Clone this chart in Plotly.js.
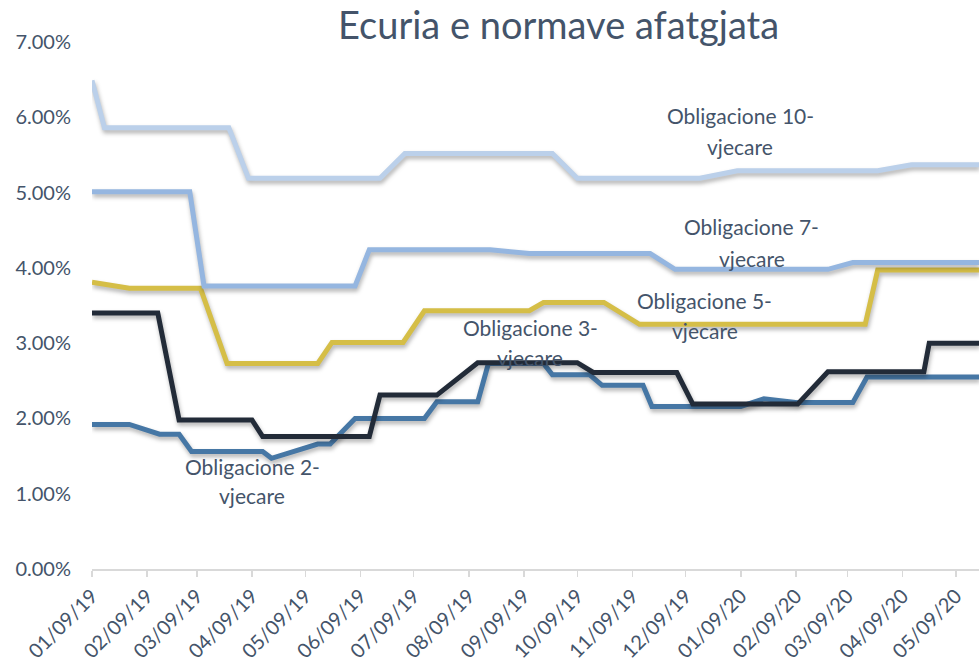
<!DOCTYPE html>
<html>
<head>
<meta charset="utf-8">
<script src="https://cdn.plot.ly/plotly-3.0.1.min.js"></script>
<style>
  html, body { margin: 0; padding: 0; background: #fff; }
  #chart { width: 979px; height: 664px; }
  .scatterlayer .js-line { filter: drop-shadow(1px 3px 2px rgba(0,0,0,0.30)); }
</style>
</head>
<body>
<div id="chart"></div>
<script>
// ---- Data ----
const seriesNames = ['Obligacione 2-vjecare', 'Obligacione 3-vjecare', 'Obligacione 5-vjecare', 'Obligacione 7-vjecare', 'Obligacione 10-vjecare'];

const dates2 = ['2019-01-09','2019-01-30','2019-02-16','2019-02-27','2019-03-06','2019-04-15','2019-04-20','2019-05-16','2019-05-23','2019-06-06','2019-07-15','2019-07-22','2019-08-14','2019-08-20','2019-09-20','2019-09-25','2019-10-16','2019-10-23','2019-11-15','2019-11-20','2020-01-09','2020-01-22','2020-02-10','2020-03-12','2020-03-20','2020-05-22'];
const rates2 = [1.92,1.92,1.79,1.79,1.56,1.56,1.47,1.66,1.66,2.00,2.00,2.22,2.22,2.73,2.73,2.58,2.58,2.44,2.44,2.16,2.16,2.26,2.21,2.21,2.55,2.55];

const dates3 = ['2019-01-09','2019-02-15','2019-02-27','2019-04-09','2019-04-15','2019-06-14','2019-06-20','2019-07-22','2019-08-14','2019-10-09','2019-10-18','2019-12-04','2019-12-13','2020-02-10','2020-02-27','2020-04-21','2020-04-24','2020-05-22'];
const rates3 = [3.40,3.40,1.98,1.98,1.76,1.76,2.31,2.31,2.74,2.74,2.61,2.61,2.19,2.19,2.62,2.62,3.00,3.00];

const dates5 = ['2019-01-09','2019-01-30','2019-03-11','2019-03-26','2019-05-16','2019-05-24','2019-07-03','2019-07-15','2019-09-12','2019-09-20','2019-10-24','2019-11-13','2020-03-19','2020-03-26','2020-05-22'];
const rates5 = [3.81,3.73,3.73,2.73,2.73,3.01,3.01,3.43,3.43,3.54,3.54,3.25,3.25,3.97,3.97];

const dates7 = ['2019-01-09','2019-03-05','2019-03-13','2019-06-06','2019-06-14','2019-08-21','2019-09-12','2019-11-19','2019-12-03','2020-02-27','2020-03-12','2020-05-22'];
const rates7 = [5.01,5.01,3.76,3.76,4.24,4.24,4.19,4.19,3.98,3.98,4.07,4.07];

const dates10 = ['2019-01-09','2019-01-16','2019-03-27','2019-04-07','2019-06-20','2019-07-04','2019-09-25','2019-10-09','2019-12-17','2020-01-07','2020-03-26','2020-04-14','2020-05-22'];
const rates10 = [6.49,5.86,5.86,5.19,5.19,5.52,5.52,5.19,5.19,5.29,5.29,5.37,5.37];

const labelLines = [
  ['Obligacione 2-', 'vjecare'],
  ['Obligacione 3-', 'vjecare'],
  ['Obligacione 5-', 'vjecare'],
  ['Obligacione 7-', 'vjecare'],
  ['Obligacione 10-', 'vjecare']
];

const titleText = 'Ecuria e normave afatgjata';

// ---- Styles ----
const colors = ['#4677A5', '#222B38', '#D5BE47', '#95B6E0', '#BBD0EA'];
const textColor = '#44546A';
const fontFam = 'Lato, "Open Sans", sans-serif';

const xs = [dates2, dates3, dates5, dates7, dates10];
const ys = [rates2, rates3, rates5, rates7, rates10];

const traces = xs.map((x, i) => ({
  x: x, y: ys[i], name: seriesNames[i], type: 'scatter', mode: 'lines',
  line: { color: colors[i], width: 5, shape: 'linear' },
  hoverinfo: 'x+y+name'
}));

// label positions (paper fractions) : [x, yLine1, yLine2]
const labelPos = [
  [0.1804, 0.195, 0.140],
  [0.4938, 0.459, 0.402],
  [0.6910, 0.509, 0.452],
  [0.7440, 0.649, 0.590],
  [0.7306, 0.861, 0.802]
];

const annotations = [];
labelLines.forEach((lines, i) => {
  lines.forEach((t, j) => {
    annotations.push({
      xref: 'paper', yref: 'paper', x: labelPos[i][0], y: labelPos[i][1 + j],
      text: t, showarrow: false, xanchor: 'center', yanchor: 'middle',
      font: { family: fontFam, size: 21, color: textColor }
    });
  });
});

const layout = {
  width: 979, height: 664,
  margin: { l: 92, r: 0, t: 42, b: 95, pad: 0 },
  paper_bgcolor: '#ffffff', plot_bgcolor: '#ffffff',
  showlegend: false,
  font: { family: fontFam, color: textColor },
  title: {
    text: titleText, font: { family: fontFam, size: 38, color: textColor },
    x: 0.526, xref: 'paper', xanchor: 'center', y: 0.962, yref: 'container', yanchor: 'middle'
  },
  xaxis: {
    type: 'date', range: ['2019-01-09', '2020-05-22'],
    tick0: '2019-01-09', dtick: 'M1', tickformat: '%m/%d/%y', tickangle: -45,
    showgrid: false, zeroline: false,
    showline: true, linecolor: '#D9D9D9', linewidth: 1.5,
    ticks: 'outside', ticklen: 6, tickcolor: '#D9D9D9', tickwidth: 1.5,
    tickfont: { family: fontFam, size: 20, color: textColor }
  },
  yaxis: {
    range: [0, 7], dtick: 1, tickformat: '.2f', ticksuffix: '%',
    showgrid: false, zeroline: false, showline: false, ticks: '',
    ticklabelstandoff: 20,
    tickfont: { family: fontFam, size: 20, color: textColor }
  },
  annotations: annotations
};

Plotly.newPlot('chart', traces, layout, { displayModeBar: false, staticPlot: true });
</script>
</body>
</html>
